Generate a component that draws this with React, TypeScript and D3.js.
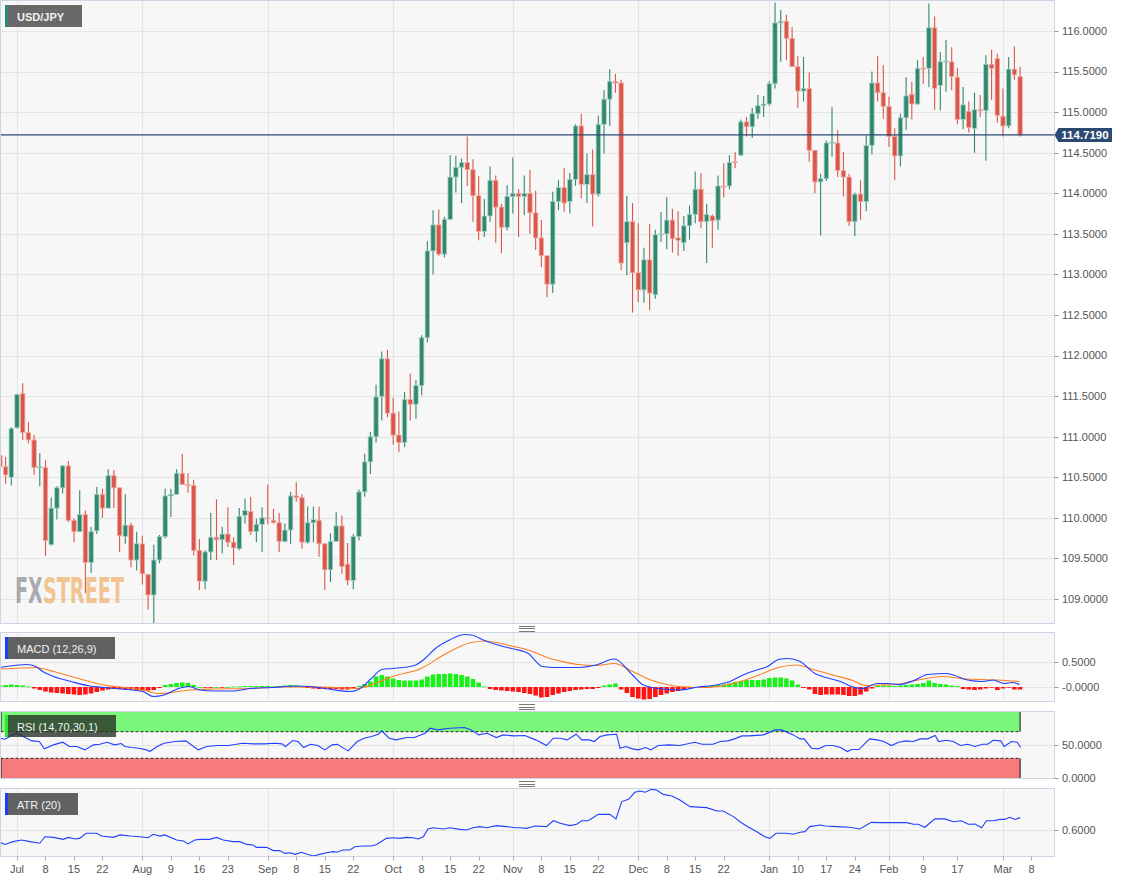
import React from "react";
import * as d3 from "d3";

const WIDTH = 1131;
const HEIGHT = 883;

// Daily USD/JPY candles [open, high, low, close], one per trading day (index 0 = Jun 28)
const ohlc: [number, number, number, number][] = [
  [110.77,110.98,110.50,110.63],[110.63,110.75,110.42,110.53],[110.50,111.12,110.40,111.10],[111.11,111.53,111.10,111.52],
  [111.53,111.66,110.96,111.05],[111.05,111.18,110.92,110.96],[110.96,111.02,110.53,110.62],[110.62,110.80,110.39,110.63],
  [110.62,110.71,109.53,109.72],[109.67,110.25,109.66,110.12],[110.12,110.39,109.98,110.37],[110.37,110.65,110.30,110.64],
  [110.64,110.70,109.95,109.97],[109.97,109.99,109.70,109.83],[109.83,110.34,109.83,110.04],[110.04,110.09,109.07,109.45],
  [109.45,109.89,109.32,109.83],[109.84,110.38,109.80,110.29],[110.29,110.36,110.00,110.12],[110.12,110.60,110.12,110.52],
  [110.52,110.59,110.12,110.37],[110.37,110.37,109.58,109.78],[109.77,110.29,109.68,109.91],[109.91,109.94,109.39,109.48],
  [109.48,109.83,109.35,109.68],[109.68,109.78,109.18,109.31],[109.30,109.31,108.87,109.05],[109.05,109.67,108.70,109.48],
  [109.48,109.79,109.44,109.77],[109.77,110.36,109.75,110.27],[110.27,110.36,110.01,110.29],[110.29,110.60,110.29,110.55],
  [110.55,110.79,110.41,110.41],[110.41,110.55,110.31,110.40],[110.40,110.47,109.54,109.60],[109.60,109.74,109.11,109.22],
  [109.22,109.60,109.12,109.58],[109.58,110.06,109.48,109.76],[109.76,110.23,109.48,109.73],[109.73,109.89,109.56,109.80],
  [109.80,110.13,109.64,109.70],[109.70,109.76,109.42,109.63],[109.62,110.12,109.60,110.02],[110.03,110.24,109.93,110.09],
  [110.08,110.26,109.79,109.83],[109.83,109.99,109.70,109.92],[109.92,110.13,109.58,110.00],[110.00,110.41,109.92,109.99],
  [109.97,110.11,109.93,109.94],[109.94,110.06,109.58,109.71],[109.71,109.93,109.70,109.85],[109.85,110.32,109.68,110.27],
  [110.27,110.44,110.20,110.25],[110.25,110.29,109.62,109.70],[109.70,110.14,109.68,109.94],[109.94,110.14,109.70,109.98],
  [109.97,110.14,109.52,109.68],[109.68,109.68,109.11,109.36],[109.36,109.81,109.21,109.71],[109.71,110.07,109.71,109.90],
  [109.90,110.03,109.31,109.40],[109.43,109.69,109.17,109.23],[109.23,109.80,109.12,109.77],[109.77,110.35,109.72,110.32],
  [110.32,110.79,110.26,110.69],[110.69,111.06,110.54,111.00],[111.00,111.64,110.93,111.49],[111.50,112.05,111.20,111.96],
  [111.96,112.07,111.24,111.29],[111.29,111.48,110.90,111.02],[111.02,111.31,110.81,110.93],[110.93,111.55,110.87,111.46],
  [111.46,111.78,111.20,111.40],[111.40,111.70,111.22,111.63],[111.63,112.25,111.51,112.22],[112.22,113.41,112.16,113.29],
  [113.29,113.79,113.00,113.61],[113.61,113.80,113.23,113.25],[113.25,113.71,113.21,113.68],[113.68,114.47,113.67,114.20],
  [114.20,114.46,114.01,114.32],[114.32,114.43,113.88,114.38],[114.38,114.70,114.09,114.29],[114.29,114.42,113.65,113.97],
  [113.97,114.21,113.42,113.53],[113.53,113.93,113.46,113.72],[113.72,114.33,113.65,114.16],[114.16,114.22,113.39,113.83],
  [113.83,113.87,113.26,113.58],[113.58,114.10,113.54,113.96],[113.96,114.44,113.75,114.00],[114.00,114.05,113.46,113.96],
  [113.96,114.22,113.73,114.00],[114.00,114.29,113.50,113.76],[113.76,114.03,113.30,113.45],[113.45,113.67,113.09,113.23],
  [113.23,113.23,112.72,112.88],[112.88,114.02,112.77,113.90],[113.90,114.16,113.79,114.07],[114.07,114.31,113.77,113.88],
  [113.90,114.25,113.75,114.17],[114.17,114.85,114.09,114.83],[114.83,114.98,113.94,114.11],[114.11,114.49,113.88,114.23],
  [114.23,114.54,113.59,113.99],[113.99,114.96,113.96,114.85],[114.85,115.27,114.49,115.16],[115.16,115.53,114.83,115.38],
  [115.38,115.47,115.24,115.36],[115.36,115.40,113.05,113.14],[113.39,113.97,112.99,113.65],[113.65,113.88,112.53,113.02],
  [113.02,113.63,112.66,112.81],[112.81,113.33,112.65,113.18],[113.18,113.62,112.56,112.77],[112.75,113.55,112.70,113.49],
  [113.49,113.77,113.40,113.50],[113.50,113.95,113.31,113.67],[113.67,113.81,113.27,113.44],[113.45,113.78,113.23,113.42],
  [113.39,113.72,113.29,113.60],[113.60,113.85,113.43,113.74],[113.74,114.27,113.63,114.05],[114.05,114.25,113.57,113.65],
  [113.65,113.87,113.14,113.74],[113.72,113.74,113.33,113.66],[113.67,114.22,113.55,114.09],[114.09,114.37,113.95,114.08],
  [114.09,114.47,114.05,114.38],[114.39,114.51,114.31,114.38],[114.47,114.91,114.46,114.88],[114.88,114.94,114.70,114.82],
  [114.82,115.05,114.68,114.98],[114.98,115.21,114.92,115.08],[115.08,115.20,114.94,115.10],[115.10,115.38,115.08,115.35],
  [115.35,116.35,115.29,116.10],[116.10,116.26,115.62,116.12],[116.12,116.20,115.64,115.91],[115.91,116.05,115.56,115.56],
  [115.56,115.69,115.05,115.26],[115.26,115.68,115.13,115.29],[115.29,115.49,114.39,114.53],[114.53,114.53,114.00,114.14],
  [114.14,114.24,113.48,114.18],[114.18,114.65,114.15,114.62],[114.62,115.06,114.45,114.63],[114.62,114.78,114.20,114.28],
  [114.28,114.51,113.96,114.20],[114.20,114.24,113.60,113.65],[113.65,114.01,113.47,113.99],[113.99,114.16,113.67,113.90],
  [113.90,114.71,113.78,114.59],[114.59,115.50,114.48,115.36],[115.36,115.69,115.13,115.24],[115.24,115.58,114.92,115.07],
  [115.07,115.19,114.57,114.70],[114.70,114.80,114.16,114.46],[114.46,114.98,114.33,114.93],[114.93,115.43,114.78,115.20],
  [115.22,115.37,114.91,115.10],[115.10,115.64,115.09,115.54],[115.54,115.68,115.35,115.53],[115.54,116.34,115.31,116.04],
  [116.04,116.18,115.03,115.29],[115.33,115.74,115.02,115.62],[115.62,115.89,115.25,115.63],[115.62,115.80,115.27,115.44],
  [115.43,115.54,114.85,114.91],[114.91,115.31,114.79,115.09],[115.01,115.13,114.75,114.81],[114.80,115.24,114.50,115.03],
  [115.03,115.21,114.94,115.02],[115.02,115.70,114.40,115.59],[115.59,115.77,115.15,115.54],[115.66,115.72,114.87,114.96],
  [114.95,115.29,114.70,114.83],[114.83,115.68,114.80,115.53],[115.53,115.81,115.40,115.46],[115.44,115.56,114.70,114.719],
];

const lastPrice = 114.719;
const pairName = "USD/JPY";
const watermark = "FXSTREET";

const priceTicks = [109, 109.5, 110, 110.5, 111, 111.5, 112, 112.5, 113, 113.5, 114, 114.5, 115, 115.5, 116];

// Candle index of each month start (gridlines) and of the axis labels
const monthStartIdx = [3, 25, 47, 69, 90, 112, 135, 156, 176];
const xTickIdx = [3, 8, 13, 18, 25, 30, 35, 40, 47, 52, 57, 62, 69, 74, 79, 84, 90, 95, 100, 105, 112, 117, 122, 127, 135, 140, 145, 150, 156, 162, 168, 176, 181];
const xTickLabels = ["Jul", "8", "15", "22", "Aug", "9", "16", "23", "Sep", "8", "15", "22", "Oct", "8", "15", "22", "Nov", "8", "15", "22", "Dec", "8", "15", "22", "Jan", "10", "17", "24", "Feb", "9", "17", "Mar", "8"];

// MACD (12,26,9): [candle index, value]
const macdLine: [number, number][] = [
  [0,0.39],[2.5,0.43],[4.7,0.45],[6.3,0.41],[7.5,0.31],[9.4,0.21],[12.5,0.11],[15.7,0.02],[18.2,-0.01],[21.3,-0.04],
  [25.1,-0.09],[26.9,-0.19],[28.8,-0.16],[31.3,-0.03],[33.2,0.01],[35.1,-0.06],[37.6,-0.08],[40.7,-0.08],[43.9,-0.03],
  [47.6,-0.01],[52,0.02],[54.5,0.01],[57.6,-0.04],[61.4,-0.09],[62.7,-0.06],[65.2,0.17],[67,0.35],[68.9,0.37],[72.7,0.43],
  [74.6,0.57],[76.4,0.77],[78.9,0.94],[81.5,1.05],[82.7,1.04],[85.2,0.92],[88.3,0.81],[90.2,0.76],[92.7,0.67],[95.2,0.41],
  [97.5,0.39],[101.5,0.39],[104.6,0.44],[107.8,0.56],[111,0.24],[112.9,0.04],[116.2,-0.04],[119.3,-0.06],[122.5,0],
  [125.1,0.03],[128.3,0.12],[130.2,0.23],[132.8,0.34],[134.7,0.41],[136.6,0.55],[138.2,0.57],[140.4,0.51],[143,0.27],
  [144.9,0.19],[147.5,0.11],[149.4,0.01],[151.3,-0.03],[153.9,0.07],[155.8,0.07],[157.7,0.05],[160.2,0.12],[162.8,0.25],
  [166,0.27],[167.3,0.24],[169.8,0.14],[172.4,0.11],[174.3,0.14],[176.2,0.07],[177.5,0.09],[178.9,0.05],
];
const signalLine: [number, number][] = [
  [0,0.36],[2.5,0.37],[6.3,0.39],[9.4,0.31],[12.5,0.21],[15.7,0.11],[18.8,0.03],[21.9,-0.01],[25.1,-0.06],[27.6,-0.13],
  [30.1,-0.11],[33.2,-0.06],[37.6,-0.04],[43.9,-0.03],[50.1,0],[56.4,0],[62.7,-0.03],[65.8,0.07],[68.9,0.21],[73.9,0.37],
  [78.3,0.67],[82.7,0.89],[85.2,0.92],[89,0.84],[92.7,0.74],[96.5,0.57],[98.3,0.52],[101.5,0.45],[104.6,0.43],[107.8,0.47],
  [111,0.31],[114.2,0.14],[117.4,0.04],[120.6,0],[123.8,-0.01],[127,0.03],[130.2,0.12],[133.4,0.25],[136.6,0.39],[139.8,0.44],
  [143,0.34],[146.2,0.24],[149.4,0.14],[152,0.03],[154.5,0.04],[157.1,0.05],[160.2,0.12],[165.4,0.21],[168.5,0.17],
  [171.7,0.15],[175,0.14],[178.9,0.11],
];
// Histogram, one bar per candle
const macdHist: number[] = [
  0.03,0.04,0.05,0.04,0.03,0.01,-0.03,-0.06,-0.09,-0.11,
  -0.12,-0.13,-0.14,-0.15,-0.16,-0.15,-0.13,-0.10,-0.07,-0.05,
  -0.04,-0.04,-0.05,-0.05,-0.06,-0.07,-0.07,-0.06,-0.02,0.04,
  0.06,0.08,0.09,0.08,0.04,0.00,-0.01,-0.01,0.00,-0.01,
  0.00,0.01,0.01,0.02,0.02,0.02,0.02,0.02,0.01,0.02,
  0.03,0.04,0.03,0.01,-0.02,-0.03,-0.04,-0.04,-0.04,-0.04,
  -0.05,-0.05,-0.03,0.02,0.06,0.11,0.21,0.24,0.21,0.17,
  0.14,0.13,0.13,0.13,0.15,0.21,0.25,0.26,0.26,0.27,
  0.26,0.24,0.21,0.16,0.09,0.01,-0.04,-0.06,-0.07,-0.08,
  -0.09,-0.10,-0.12,-0.14,-0.17,-0.21,-0.20,-0.16,-0.13,-0.10,
  -0.08,-0.06,-0.05,-0.04,-0.04,-0.02,0.03,0.05,0.07,-0.05,
  -0.12,-0.20,-0.23,-0.25,-0.24,-0.20,-0.16,-0.13,-0.10,-0.08,
  -0.05,-0.02,0.00,0.00,0.01,0.03,0.04,0.05,0.07,0.10,
  0.12,0.14,0.14,0.14,0.15,0.18,0.19,0.19,0.17,0.13,
  0.05,-0.02,-0.05,-0.14,-0.16,-0.15,-0.15,-0.15,-0.16,-0.18,
  -0.18,-0.15,-0.09,-0.03,0.03,0.03,0.03,0.02,0.03,0.04,
  0.05,0.06,0.08,0.13,0.08,0.06,0.05,0.03,0.02,-0.04,
  -0.05,-0.06,-0.05,-0.03,-0.01,-0.06,-0.03,-0.01,-0.05,-0.05,
];

// RSI (14): [candle index, value]
const rsiLine: [number, number][] = [
  [0,60.2],[0.9,58.7],[2.8,67.7],[4.1,62.7],[5.6,56.2],[6.9,55.2],[7.8,44.2],[9.4,50.2],[11,54.2],[12.2,47.7],[13.5,47.7],
  [14.9,42.7],[16.4,50.2],[17.5,51.2],[18.8,54.2],[20.1,50.2],[21.3,52.2],[21.9,47.7],[23.2,46.2],[24.4,45.2],[25.7,42.7],
  [26.3,40.2],[27.6,47.7],[28.8,52.7],[30.7,55.2],[32.6,56.2],[33.2,52.7],[34.8,42.7],[36.3,47.7],[38.2,49.2],[40.1,49.2],
  [42.6,52.7],[44.5,51.7],[46.4,51.7],[48.2,52.7],[49.5,51.7],[50.1,47.7],[51.4,56.7],[52.3,55.2],[53.3,46.2],[54.5,51.2],
  [55.8,49.2],[57,42.7],[58.3,50.2],[59.2,51.2],[60.5,44.2],[61.1,41.2],[62.7,55.2],[63.9,60.2],[65.2,62.7],[66.4,66.2],
  [67,71.2],[68.3,60.2],[69.5,57.7],[71.4,61.2],[72.7,61.2],[74.6,67.7],[75.5,75.2],[76.8,72.7],[78.9,75.2],[81.5,76.2],
  [82.7,72.7],[84,65.2],[85.5,67.7],[87.1,61.2],[88.3,65.2],[90.2,63.7],[92.1,64.2],[94,57.7],[95.9,49.2],[97.1,60.2],
  [98.3,60.2],[99.5,57.7],[101.1,66.2],[102.1,57.7],[103.4,57.7],[104.3,55.2],[105.3,62.7],[106.6,65.2],[108.2,66.2],
  [108.8,45.2],[109.8,47.7],[111,44.2],[112,42.7],[113.3,46.2],[114.2,42.7],[115.5,49.2],[117.4,50.2],[119.3,49.2],
  [121.9,54.2],[123.2,51.2],[125.1,51.2],[126.4,55.2],[127.7,56.2],[128.9,59.2],[130.2,63.7],[131.5,63.7],[134,65.2],
  [136,72.7],[137.2,72.7],[139.2,65.2],[140.4,59.2],[141.1,59.2],[142.4,45.2],[143.6,44.2],[144.9,49.2],[146.2,49.2],
  [147.5,46.2],[148.7,40.2],[149.4,43.2],[150.7,43.2],[152.6,59.2],[153.9,57.7],[155.1,55.2],[156.4,49.2],[157.7,54.2],
  [159,56.2],[160.2,55.2],[161.5,59.2],[162.8,59.2],[164.1,64.2],[164.7,55.2],[166,57.2],[167.3,55.2],[168.5,49.2],
  [169.8,51.2],[171.1,47.7],[172.4,51.2],[173.3,51.2],[174.3,57.2],[175.6,56.2],[176.2,47.7],[177.5,55.2],[178.5,54.2],
  [179.1,46.2],
];

// ATR (20): [candle index, value]
const atrLine: [number, number][] = [
  [0,0.527],[0.9,0.514],[2.3,0.531],[3.8,0.541],[5.3,0.531],[7,0.521],[7.9,0.561],[9.4,0.557],[11.1,0.545],[12,0.557],
  [13.2,0.547],[14,0.551],[15.1,0.582],[17,0.582],[17.8,0.565],[19.9,0.557],[21.1,0.572],[22.8,0.565],[24.6,0.561],
  [26,0.555],[26.9,0.576],[28.1,0.565],[28.9,0.572],[31,0.541],[32.2,0.535],[33,0.517],[34.2,0.541],[35.1,0.545],
  [36.8,0.545],[38,0.557],[39.2,0.541],[40.9,0.531],[42.1,0.531],[43.3,0.514],[44.4,0.51],[45,0.496],[46.8,0.496],
  [48,0.476],[49.1,0.476],[50,0.459],[50.9,0.463],[51.8,0.453],[52.9,0.466],[53.8,0.455],[55,0.443],[56.1,0.453],
  [57.3,0.463],[58.5,0.47],[59.1,0.466],[60.2,0.48],[61.4,0.48],[62.3,0.5],[63.7,0.504],[65.2,0.504],[66.1,0.514],
  [67.8,0.551],[69,0.555],[70.2,0.551],[71.3,0.557],[72.5,0.555],[73.4,0.547],[74.3,0.561],[75.1,0.608],[76,0.616],
  [77.8,0.608],[78.9,0.616],[80.7,0.606],[81.9,0.602],[83,0.616],[84.2,0.623],[85.4,0.616],[87.1,0.629],[88.9,0.623],
  [90.4,0.616],[91.25,0.616],[92.4,0.612],[93.9,0.627],[95.9,0.623],[97.1,0.659],[98.3,0.643],[100,0.629],[101.2,0.637],
  [102.1,0.659],[103.2,0.659],[105,0.698],[107,0.698],[108.1,0.67],[109.1,0.776],[110.3,0.79],[111.4,0.833],[112.3,0.841],
  [113.2,0.833],[114.35,0.851],[115.2,0.847],[116.4,0.82],[117.9,0.81],[119.3,0.786],[121.1,0.745],[124,0.739],
  [125.8,0.718],[126.9,0.718],[128.7,0.684],[129.85,0.653],[131,0.627],[132.8,0.592],[134.2,0.561],[135.1,0.551],
  [136.2,0.582],[138,0.582],[139.2,0.576],[140.4,0.588],[141.25,0.592],[142.1,0.623],[143.9,0.633],[144.8,0.627],
  [146.8,0.623],[149.1,0.619],[150.9,0.608],[152.9,0.649],[154.4,0.647],[159.1,0.647],[160.3,0.637],[161.1,0.637],
  [162.3,0.619],[164.05,0.67],[165.8,0.67],[167.3,0.653],[168.7,0.659],[169.9,0.637],[171.1,0.639],[172.25,0.616],
  [173.1,0.659],[174.3,0.659],[175.5,0.667],[176.3,0.667],[177.2,0.68],[178.1,0.667],[179,0.678],
];

const macdTicks = [0.5, 0];
const macdTickLabels = ["0.5000", "-0.0000"];
const rsiTicks = [50, 0];
const rsiLevels = [70, 30];
const atrTicks = [0.6];

const FONT = "'Liberation Sans', Arial, Helvetica, sans-serif";
const LOGO_FONT = "'DejaVu Sans Condensed', 'Liberation Sans Narrow', 'DejaVu Sans', sans-serif";
const GREEN = "#32876f";
const GREEN_EDGE = "#a3d0c3";
const RED = "#d8574a";
const RED_EDGE = "#f1aca4";
const GRID = "#e4e4e4";
const BORDER = "#cdd4e4";
const PLOT_BG = "#f7f7f7";

const plotL = 0.5;
const plotR = 1054.5;
const main = { top: 0.5, bottom: 623.5 };
const macdP = { top: 632.5, bottom: 701.5 };
const rsiP = { top: 711.5, bottom: 778.5 };
const atrP = { top: 788.5, bottom: 856.5 };

export default function App() {
  const fmt = d3.format(".4f");
  const x = d3.scaleLinear().domain([3, 176]).range([17, 1003]);
  const yMain = d3.scaleLinear().domain([109, 116]).range([599, 31]);
  const yMacd = d3.scaleLinear().domain([0, 0.5]).range([687, 662]);
  const yRsi = d3.scaleLinear().domain([0, 100]).range([778.3, 711.7]);
  const yAtr = d3.scaleLinear().domain([0.44, 0.85]).range([856.5, 789.5]);

  const lineOf = (ys: d3.ScaleLinear<number, number>, curve: d3.CurveFactory) =>
    d3.line<[number, number]>().x((d) => x(d[0])).y((d) => ys(d[1])).curve(curve);

  const lastIdx = ohlc.length - 1;
  const bodyW = 4.4;
  const histW = 4.6;

  const panels = [main, macdP, rsiP, atrP];

  const vGrid = (p: { top: number; bottom: number }, key: string) =>
    monthStartIdx.map((m) => (
      <line key={key + m} x1={Math.round(x(m)) + 0.5} x2={Math.round(x(m)) + 0.5} y1={p.top} y2={p.bottom} stroke={GRID} strokeWidth={1} />
    ));

  const yAxis = (ticks: number[], ys: d3.ScaleLinear<number, number>, labels?: string[], key = "") =>
    ticks.map((t, i) => (
      <g key={key + t}>
        <line x1={plotR} x2={plotR + 4} y1={Math.round(ys(t)) + 0.5} y2={Math.round(ys(t)) + 0.5} stroke="#999" />
        <text x={1062} y={ys(t)} dy="0.35em" fontSize={11} fill="#555" fontFamily={FONT}>
          {labels ? labels[i] : fmt(t)}
        </text>
      </g>
    ));

  const labelBox = (bx: number, by: number, w: number, accent: string, text: string, fill: string, bold = false) => (
    <g>
      <rect x={bx} y={by} width={w} height={22} fill={fill} />
      <rect x={bx} y={by} width={3} height={22} fill={accent} />
      <text x={bx + 12} y={by + 15.5} fontSize={11} fontWeight={bold ? "bold" : "normal"} fill="#f2f2f2" fontFamily={FONT}>
        {text}
      </text>
    </g>
  );

  const yLast = yMain(lastPrice);
  const grip = (cy: number) => (
    <g key={"grip" + cy}>
      {[-2.5, 0, 2.5].map((d) => (
        <line key={d} x1={519} x2={535} y1={Math.round(cy + d) + 0.5} y2={Math.round(cy + d) + 0.5} stroke="#555" strokeWidth={0.8} />
      ))}
    </g>
  );

  return (
    <svg width={WIDTH} height={HEIGHT} style={{ position: "absolute", left: 0, top: 0, background: "#fff" }}>
      <defs>
        {panels.map((p, i) => (
          <clipPath id={"clip" + i} key={i}>
            <rect x={plotL} y={p.top} width={plotR - plotL} height={p.bottom - p.top} />
          </clipPath>
        ))}
        <linearGradient id="logoFill" gradientUnits="userSpaceOnUse" x1={15} x2={124} y1={0} y2={0}>
          <stop offset="0.24" stopColor="#8f9099" />
          <stop offset="0.24" stopColor="#efb470" />
        </linearGradient>
      </defs>

      {/* panel backgrounds */}
      {panels.map((p, i) => (
        <rect key={"bg" + i} x={plotL} y={p.top} width={plotR - plotL} height={p.bottom - p.top} fill={PLOT_BG} />
      ))}

      {/* ---------------- main panel ---------------- */}
      <g clipPath="url(#clip0)">
        {priceTicks.map((t) => (
          <line key={"hg" + t} x1={plotL} x2={plotR} y1={Math.round(yMain(t)) + 0.5} y2={Math.round(yMain(t)) + 0.5} stroke={GRID} />
        ))}
        {vGrid(main, "mv")}
        <text x={15} y={603} fontSize={36} fontWeight="bold" fontFamily={LOGO_FONT}
          textLength={109} lengthAdjust="spacingAndGlyphs" fill="url(#logoFill)" opacity={0.75}>{watermark}</text>
        {ohlc.map(([o, h, l, c], i) => {
          const cx = x(i);
          const up = c >= o;
          const yTop = yMain(Math.max(o, c));
          const yBot = yMain(Math.min(o, c));
          return (
            <g key={"c" + i}>
              <line x1={cx} x2={cx} y1={yMain(h)} y2={yMain(l)} stroke={up ? GREEN : RED} strokeWidth={1.1} />
              <rect x={cx - bodyW / 2} y={yTop} width={bodyW} height={Math.max(1, yBot - yTop)}
                fill={up ? GREEN : RED} stroke={up ? GREEN_EDGE : RED_EDGE} strokeWidth={0.8} />
            </g>
          );
        })}
        <line x1={plotL} x2={plotR} y1={yLast} y2={yLast} stroke="#2b4a72" strokeWidth={1.2} />
      </g>
      <rect x={plotL} y={main.top} width={plotR - plotL} height={main.bottom - main.top} fill="none" stroke={BORDER} />
      {yAxis(priceTicks, yMain, undefined, "py")}
      <path d={`M${plotR},${yLast} L${plotR + 4},${yLast - 7} L1112,${yLast - 7} L1112,${yLast + 7} L${plotR + 4},${yLast + 7} Z`} fill="#2b4a72" />
      <text x={1085} y={yLast} dy="0.36em" textAnchor="middle" fontSize={11.5} fontWeight="bold" fill="#fff" fontFamily={FONT}>
        {fmt(lastPrice)}
      </text>
      {labelBox(5, 5, 77, "#2e8b73", pairName, "rgba(80,80,80,0.85)", true)}

      {/* ---------------- MACD panel ---------------- */}
      <g clipPath="url(#clip1)">
        {macdTicks.map((t) => (
          <line key={"mg" + t} x1={plotL} x2={plotR} y1={Math.round(yMacd(t)) + 0.5} y2={Math.round(yMacd(t)) + 0.5} stroke={GRID} />
        ))}
        {vGrid(macdP, "macv")}
        {macdHist.map((v, i) => {
          const y0 = yMacd(0);
          const y1 = yMacd(v);
          return (
            <rect key={"h" + i} x={x(i) - histW / 2} y={Math.min(y0, y1)} width={histW} height={Math.max(0.8, Math.abs(y1 - y0))}
              fill={v >= 0 ? "#19ef19" : "#ff1414"} />
          );
        })}
        <path d={lineOf(yMacd, d3.curveMonotoneX)(signalLine) || ""} fill="none" stroke="#ff7f1e" strokeWidth={1.1} />
        <path d={lineOf(yMacd, d3.curveMonotoneX)(macdLine) || ""} fill="none" stroke="#2140ff" strokeWidth={1.1} />
      </g>
      <rect x={plotL} y={macdP.top} width={plotR - plotL} height={macdP.bottom - macdP.top} fill="none" stroke={BORDER} />
      {yAxis(macdTicks, yMacd, macdTickLabels, "my")}
      {labelBox(5, 637, 110, "#1b3cff", "MACD (12,26,9)", "rgba(70,70,70,0.85)")}

      {/* ---------------- RSI panel ---------------- */}
      <g clipPath="url(#clip2)">
        {rsiTicks.map((t) => (
          <line key={"rg" + t} x1={plotL} x2={plotR} y1={Math.round(yRsi(t)) + 0.5} y2={Math.round(yRsi(t)) + 0.5} stroke={GRID} />
        ))}
        {vGrid(rsiP, "rsv")}
        <rect x={plotL} y={yRsi(100)} width={x(lastIdx) - plotL} height={yRsi(rsiLevels[0]) - yRsi(100)} fill="#76f776" fillOpacity={0.97} />
        <rect x={plotL} y={yRsi(rsiLevels[1])} width={x(lastIdx) - plotL} height={yRsi(0) - yRsi(rsiLevels[1])} fill="#f87777" fillOpacity={0.97} />
        <line x1={plotL} x2={x(lastIdx)} y1={yRsi(rsiLevels[0])} y2={yRsi(rsiLevels[0])} stroke="#222" strokeWidth={1} strokeDasharray="3,2" />
        <line x1={plotL} x2={x(lastIdx)} y1={yRsi(rsiLevels[1])} y2={yRsi(rsiLevels[1])} stroke="#222" strokeWidth={1} strokeDasharray="3,2" />
        <line x1={x(lastIdx)} x2={x(lastIdx)} y1={yRsi(100)} y2={yRsi(rsiLevels[0])} stroke="#111" />
        <line x1={x(lastIdx)} x2={x(lastIdx)} y1={yRsi(rsiLevels[1])} y2={yRsi(0)} stroke="#111" />
        <line x1={1} x2={1} y1={yRsi(100)} y2={yRsi(rsiLevels[0])} stroke="#111" />
        <line x1={1} x2={1} y1={yRsi(rsiLevels[1])} y2={yRsi(0)} stroke="#111" />
        <path d={lineOf(yRsi, d3.curveLinear)(rsiLine) || ""} fill="none" stroke="#2140ff" strokeWidth={1.1} />
      </g>
      <rect x={plotL} y={rsiP.top} width={plotR - plotL} height={rsiP.bottom - rsiP.top} fill="none" stroke={BORDER} />
      {yAxis(rsiTicks, yRsi, undefined, "ry")}
      {labelBox(5, 715, 111, "#2ce82c", "RSI (14,70,30,1)", "rgba(40,50,40,0.8)")}

      {/* ---------------- ATR panel ---------------- */}
      <g clipPath="url(#clip3)">
        {atrTicks.map((t) => (
          <line key={"ag" + t} x1={plotL} x2={plotR} y1={Math.round(yAtr(t)) + 0.5} y2={Math.round(yAtr(t)) + 0.5} stroke={GRID} />
        ))}
        {vGrid(atrP, "atv")}
        <path d={lineOf(yAtr, d3.curveLinear)(atrLine) || ""} fill="none" stroke="#2140ff" strokeWidth={1.1} />
      </g>
      <rect x={plotL} y={atrP.top} width={plotR - plotL} height={atrP.bottom - atrP.top} fill="none" stroke={BORDER} />
      {yAxis(atrTicks, yAtr, undefined, "ay")}
      {labelBox(5, 793, 73, "#1b3cff", "ATR (20)", "rgba(70,70,70,0.85)")}

      {/* grips between panels */}
      {grip(628)}
      {grip(706.5)}
      {grip(783.5)}

      {/* x axis */}
      {xTickIdx.map((t, i) => (
        <g key={"xt" + i}>
          <line x1={Math.round(x(t)) + 0.5} x2={Math.round(x(t)) + 0.5} y1={atrP.bottom} y2={atrP.bottom + 4} stroke="#aaa" />
          <text x={x(t)} y={873} textAnchor="middle" fontSize={11} fill="#555" fontFamily={FONT}>
            {xTickLabels[i]}
          </text>
        </g>
      ))}
    </svg>
  );
}
